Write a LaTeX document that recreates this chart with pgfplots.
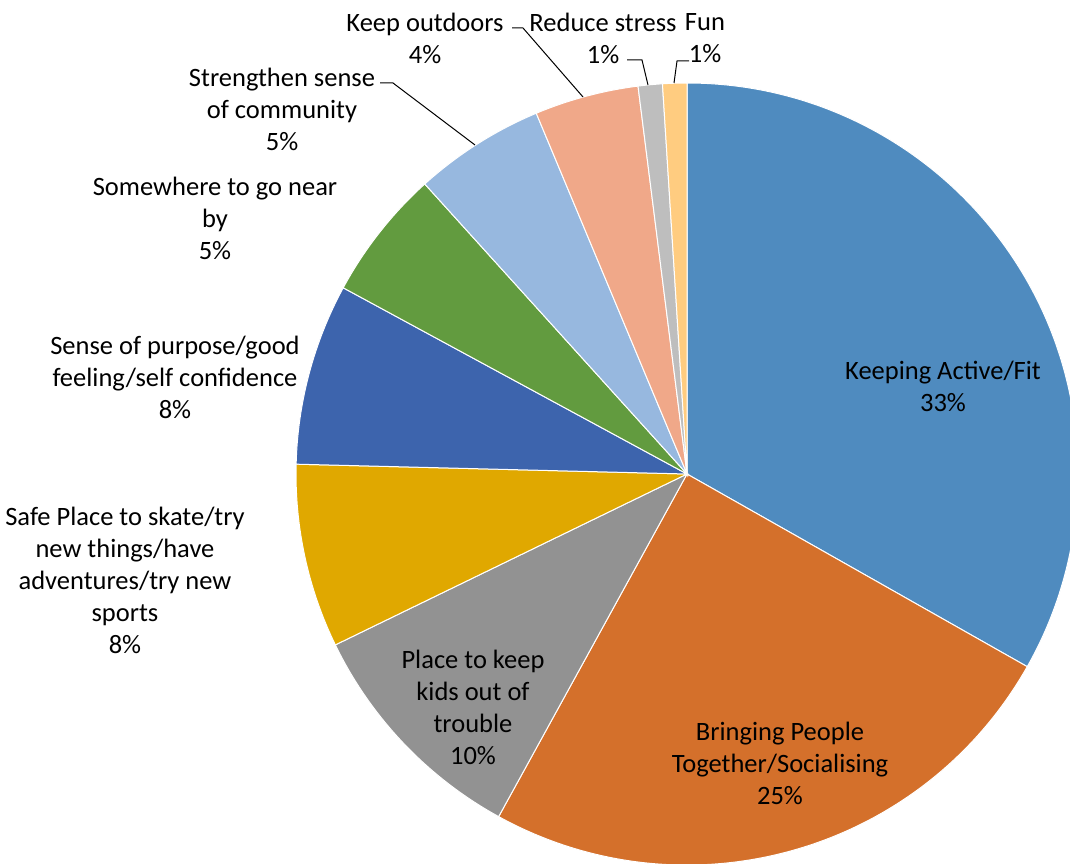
\documentclass[border=0pt]{standalone}
\usepackage{fontspec}
\setmainfont{Carlito}
\usepackage{pgfplots}
\pgfplotsset{compat=1.18}

\definecolor{cActive}{HTML}{4F8BBF}
\definecolor{cTogether}{HTML}{D4702B}
\definecolor{cKids}{HTML}{929292}
\definecolor{cSafe}{HTML}{E0A800}
\definecolor{cPurpose}{HTML}{3D64AD}
\definecolor{cNear}{HTML}{629B3F}
\definecolor{cCommunity}{HTML}{97B8DF}
\definecolor{cOutdoors}{HTML}{F0A889}
\definecolor{cStress}{HTML}{BEBEBE}
\definecolor{cFun}{HTML}{FFCC80}

\tikzset{lbl/.style={font=\fontsize{26.5}{32}\selectfont, align=center, text=black, inner sep=0pt}}

% one slice: cumulative share at start, cumulative share at end (percent), colour
% centre and radius in axis units (1 unit = 1pt here)
\newcommand\slice[3]{%
  \fill[#3, draw=white, line width=1pt] (axis cs:687,389)
    -- ++({90-3.6*#1}:391pt)
    arc[start angle={90-3.6*#1}, end angle={90-3.6*#2}, radius=391pt]
    -- cycle;}

\begin{document}
\begin{tikzpicture}
\begin{axis}[
  name=ax,
  width=1070pt, height=863pt, scale only axis,
  xmin=0, xmax=1070, ymin=0, ymax=863,
  hide axis, clip=false,
]
% shares: 33.2, 24.8, 9.8, 7.6, 7.5, 5.4, 5.4, 4.3, 1.0, 1.0
\slice{0}{33.2}{cActive}
\slice{33.2}{58.0}{cTogether}
\slice{58.0}{67.8}{cKids}
\slice{67.8}{75.4}{cSafe}
\slice{75.4}{82.9}{cPurpose}
\slice{82.9}{88.3}{cNear}
\slice{88.3}{93.7}{cCommunity}
\slice{93.7}{98.0}{cOutdoors}
\slice{98.0}{99.0}{cStress}
\slice{99.0}{100}{cFun}

% leader lines
\addplot[black, line width=1pt] coordinates {(380,780) (393,780) (475,718)};
\addplot[black, line width=1pt] coordinates {(512,835) (523,835) (583,766)};
\addplot[black, line width=1pt] coordinates {(627,803) (642,803) (648,778)};
\addplot[black, line width=1pt] coordinates {(689,802) (677,802) (674,780)};

% labels
\node[lbl] at (axis cs:943,477) {Keeping Active/Fit\\33\%};
\node[lbl] at (axis cs:780,100) {Bringing People\\Together/Socialising\\25\%};
\node[lbl] at (axis cs:473,156) {Place to keep\\kids out of\\trouble\\10\%};
\node[lbl] at (axis cs:125,283) {Safe Place to skate/try\\new things/have\\adventures/try new\\sports\\8\%};
\node[lbl] at (axis cs:175,486) {Sense of purpose/good\\feeling/self confidence\\8\%};
\node[lbl] at (axis cs:215,645) {Somewhere to go near\\by\\5\%};
\node[lbl] at (axis cs:282,754) {Strengthen sense\\of community\\5\%};
\node[lbl] at (axis cs:425,825) {Keep outdoors\\4\%};
\node[lbl] at (axis cs:603,825) {Reduce stress\\1\%};
\node[lbl] at (axis cs:705,825) {Fun\\1\%};
\end{axis}
\pgfresetboundingbox
\useasboundingbox (ax.south west) rectangle (ax.north east);
\end{tikzpicture}
\end{document}
